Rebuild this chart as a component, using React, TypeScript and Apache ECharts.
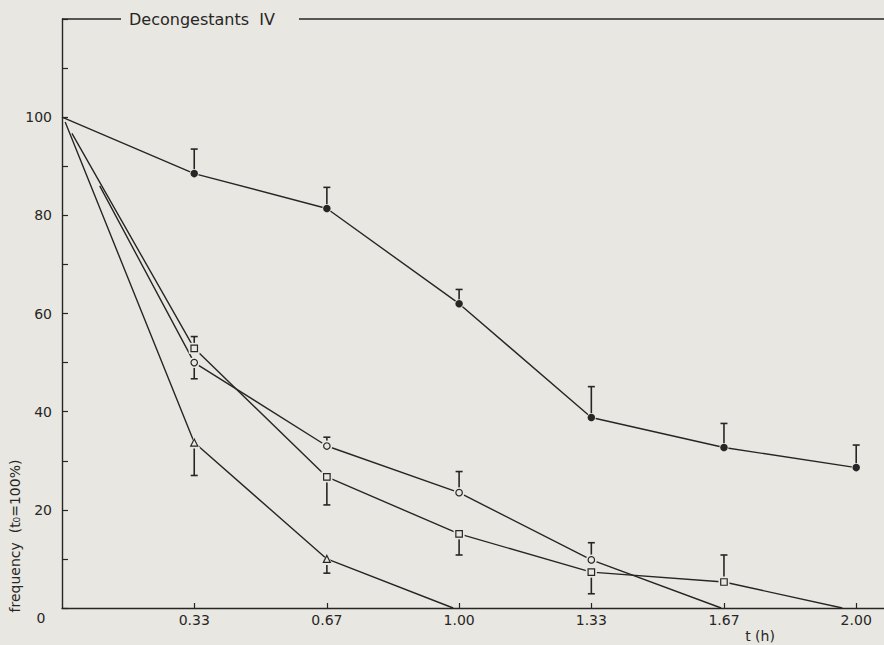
import React, { useEffect, useRef } from "react";
import * as echarts from "echarts";

// ---- data ----
const TIMES = [0.333, 0.667, 1.0, 1.333, 1.667, 2.0];
const X_TICK_LABELS = ["0.33", "0.67", "1.00", "1.33", "1.67", "2.00"];
const Y_TICK_LABELS = [20, 40, 60, 80, 100];

// filled circles
const filledStart = [0, 100];
const filledValues = [88.5, 81.4, 62, 38.8, 32.7, 28.6];
const filledErrEnd = [93.5, 85.7, 64.9, 45.1, 37.6, 33.2];

// open circles
const circleStart = [0.095, 86];
const circleValues = [50, 33, 23.5, 9.8];
const circleErrEnd = [46.7, 34.8, 27.8, 13.3];
const circleEnd = [1.66, 0];

// open squares
const squareStart = [0.025, 96.7];
const squareValues = [52.9, 26.7, 15.1, 7.3, 5.3];
const squareErrEnd = [55.3, 21, 10.8, 2.9, 10.8];
const squareEnd = [1.965, 0];

// open triangles
const triangleStart = [0.008, 99];
const triangleValues = [33.7, 10];
const triangleErrEnd = [27, 7.1];
const triangleEnd = [0.985, 0];

const BG = "#e9e7e1";
const INK = "#262626";
const FONT = "'DejaVu Sans', 'Liberation Sans', sans-serif";

function pts(values: number[]) {
  return values.map((v, i) => [TIMES[i], v]);
}
function errs(values: number[], ends: number[]) {
  return values.map((v, i) => [TIMES[i], v, ends[i]]);
}

export default function App() {
  const ref = useRef<HTMLDivElement>(null);
  useEffect(() => {
    if (!ref.current) return;
    const chart = echarts.init(ref.current, null, { renderer: "svg" });

    const lineSeries = (name: string, data: number[][]) => ({
      type: "line",
      name,
      data,
      showSymbol: false,
      symbol: "none",
      lineStyle: { color: INK, width: 1.4 },
      z: 2,
      silent: true,
    });
    const errSeries = (data: number[][]) => ({
      type: "custom",
      data,
      encode: { x: 0, y: [1, 2] },
      z: 2,
      silent: true,
      renderItem: (params: any, api: any) => {
        const p0 = api.coord([api.value(0), api.value(1)]);
        const p1 = api.coord([api.value(0), api.value(2)]);
        const st = { stroke: INK, lineWidth: 1.6 };
        return {
          type: "group",
          children: [
            { type: "line", shape: { x1: p0[0], y1: p0[1], x2: p1[0], y2: p1[1] }, style: st },
            { type: "line", shape: { x1: p1[0] - 3.5, y1: p1[1], x2: p1[0] + 3.5, y2: p1[1] }, style: st },
          ],
        };
      },
    });
    const maskSeries = (data: number[][], symbol: string, size: number) => ({
      type: "scatter",
      data,
      symbol,
      symbolSize: size,
      itemStyle: { color: BG, borderWidth: 0, opacity: 1 },
      z: 3,
      silent: true,
    });
    const markerSeries = (data: number[][], symbol: string, size: number, filled: boolean) => ({
      type: "scatter",
      data,
      symbol,
      symbolSize: size,
      itemStyle: filled
        ? { color: INK, borderWidth: 0, opacity: 1 }
        : { color: BG, borderColor: INK, borderWidth: 1.2, opacity: 1 },
      z: 4,
      silent: true,
    });

    const filled = pts(filledValues);
    const circ = pts(circleValues);
    const sq = pts(squareValues);
    const tri = pts(triangleValues);

    const option: any = {
      animation: false,
      backgroundColor: BG,
      grid: { left: 62, top: 19, width: 822, height: 589, containLabel: false },
      xAxis: {
        type: "value",
        min: 0,
        max: 2.07,
        splitLine: { show: false },
        axisLine: { show: true, onZero: false, lineStyle: { color: INK, width: 1.4 } },
        axisTick: {
          show: true,
          inside: true,
          length: 5,
          customValues: TIMES,
          lineStyle: { color: INK, width: 1.2 },
        },
        axisLabel: {
          show: true,
          customValues: TIMES,
          formatter: (v: number) => {
            const i = TIMES.findIndex((t) => Math.abs(t - v) < 1e-6);
            return i >= 0 ? X_TICK_LABELS[i] : "";
          },
          color: INK,
          fontFamily: FONT,
          fontSize: 14,
          margin: 5,
        },
      },
      yAxis: {
        type: "value",
        min: 0,
        max: 120,
        interval: 10,
        splitLine: { show: false },
        axisLine: { show: true, onZero: false, lineStyle: { color: INK, width: 1.4 } },
        axisTick: { show: true, inside: true, length: 6, lineStyle: { color: INK, width: 1.2 } },
        axisLabel: {
          show: true,
          formatter: (v: number) => (Y_TICK_LABELS.indexOf(v) >= 0 ? String(v) : ""),
          color: INK,
          fontFamily: FONT,
          fontSize: 14,
          margin: 10,
        },
      },
      graphic: [
        { type: "line", shape: { x1: 62, y1: 19, x2: 121, y2: 19 }, style: { stroke: INK, lineWidth: 1.4 } },
        { type: "line", shape: { x1: 299, y1: 19, x2: 884, y2: 19 }, style: { stroke: INK, lineWidth: 1.4 } },
        {
          type: "text",
          x: 129,
          y: 19,
          style: {
            text: "Decongestants  IV",
            fill: INK,
            font: `16px ${FONT}`,
            verticalAlign: "middle",
          },
        },
        {
          type: "text",
          x: 41,
          y: 618,
          style: { text: "0", fill: INK, font: `14px ${FONT}`, align: "center", verticalAlign: "middle" },
        },
        {
          type: "text",
          x: 760,
          y: 636,
          style: { text: "t (h)", fill: INK, font: `14px ${FONT}`, align: "center", verticalAlign: "middle" },
        },
        {
          type: "text",
          x: 15,
          y: 536,
          rotation: Math.PI / 2,
          style: {
            text: "frequency  (t\u2080=100%)",
            fill: INK,
            font: `14px ${FONT}`,
            align: "center",
            verticalAlign: "middle",
          },
        },
      ],
      series: [
        lineSeries("filled", [filledStart, ...filled]),
        lineSeries("circle", [circleStart, ...circ, circleEnd]),
        lineSeries("square", [squareStart, ...sq, squareEnd]),
        lineSeries("triangle", [triangleStart, ...tri, triangleEnd]),
        errSeries(errs(filledValues, filledErrEnd)),
        errSeries(errs(circleValues, circleErrEnd)),
        errSeries(errs(squareValues, squareErrEnd)),
        errSeries(errs(triangleValues, triangleErrEnd)),
        maskSeries(filled, "circle", 9),
        maskSeries(circ, "circle", 11),
        maskSeries(sq, "rect", 11),
        maskSeries(tri, "triangle", 12),
        markerSeries(filled, "circle", 7.5, true),
        markerSeries(circ, "circle", 6.5, false),
        markerSeries(sq, "rect", 6.5, false),
        markerSeries(tri, "triangle", 7, false),
      ],
    };
    chart.setOption(option);
    return () => chart.dispose();
  }, []);

  return (
    <div
      ref={ref}
      style={{ position: "absolute", left: 0, top: 0, width: 884, height: 645 }}
    />
  );
}
